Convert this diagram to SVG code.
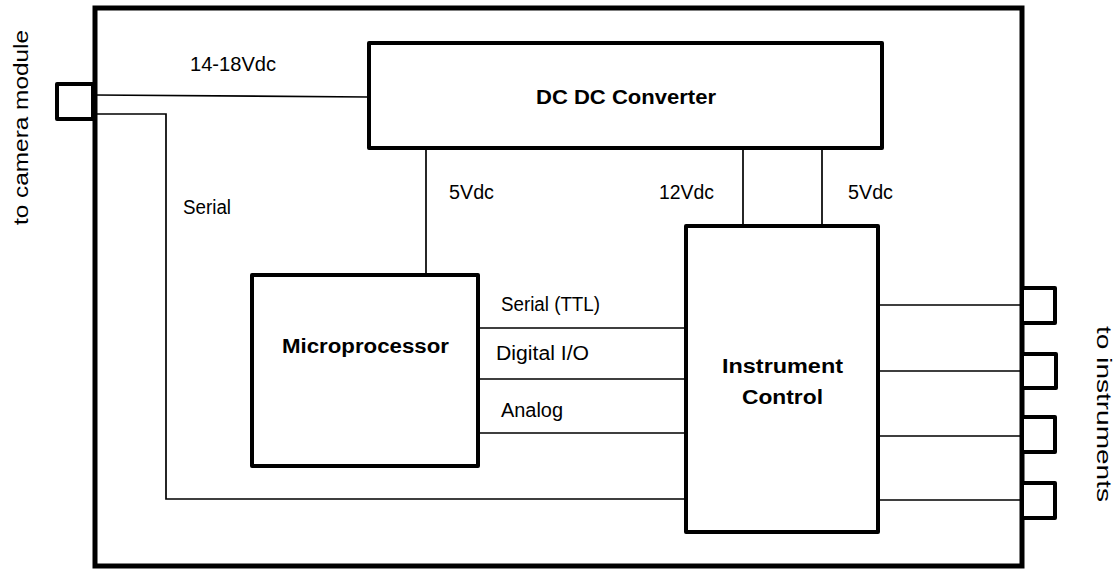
<svg xmlns="http://www.w3.org/2000/svg" width="1116" height="569" viewBox="0 0 1116 569">
<style>
.box{fill:#fff;stroke:#000;stroke-width:4;stroke-linejoin:round}
.outer{fill:none;stroke:#000;stroke-width:5}
.wire{fill:none;stroke:#000;stroke-width:1.7}
.lbl{font-family:"Liberation Sans",Arial,sans-serif;font-size:19.5px;fill:#000}
.bold{font-family:"Liberation Sans",Arial,sans-serif;font-size:19.5px;font-weight:bold;fill:#000}
</style>
<rect width="1116" height="569" fill="#fff"/>
<g id="enclosure">
<rect class="outer" x="95" y="8" width="927" height="558"/>
</g>
<g id="camera-port">
<rect class="box" x="57" y="84" width="36" height="35"/>
<text class="lbl" transform="translate(28,225) rotate(-90)" textLength="195" lengthAdjust="spacingAndGlyphs">to camera module</text>
</g>
<g id="instrument-ports">
<rect class="box" x="1022" y="288" width="33" height="35"/>
<rect class="box" x="1022" y="354" width="34" height="34"/>
<rect class="box" x="1022" y="417" width="33" height="35"/>
<rect class="box" x="1022" y="483" width="33" height="35"/>
<text class="lbl" transform="translate(1097,326) rotate(90)" textLength="176" lengthAdjust="spacingAndGlyphs">to instruments</text>
</g>
<g id="connectors">
<path class="wire" d="M95 95 L368 97"/>
<path class="wire" d="M95 114 H166 V499 H685"/>
<path class="wire" d="M426 149 V274"/>
<path class="wire" d="M743 149 V225"/>
<path class="wire" d="M822 149 V225"/>
<path class="wire" d="M478 328 H685 M478 379 H685 M478 433 H685"/>
<path class="wire" d="M878 305 H1020 M878 371 H1020 M878 436 H1020 M878 500 H1020"/>
<text class="lbl" x="190" y="71" textLength="86" lengthAdjust="spacingAndGlyphs">14-18Vdc</text>
<text class="lbl" x="183" y="214" textLength="48" lengthAdjust="spacingAndGlyphs">Serial</text>
<text class="lbl" x="449" y="199" textLength="45" lengthAdjust="spacingAndGlyphs">5Vdc</text>
<text class="lbl" x="659" y="199" textLength="55" lengthAdjust="spacingAndGlyphs">12Vdc</text>
<text class="lbl" x="848" y="199" textLength="45" lengthAdjust="spacingAndGlyphs">5Vdc</text>
<text class="lbl" x="501" y="311" textLength="99" lengthAdjust="spacingAndGlyphs">Serial (TTL)</text>
<text class="lbl" x="496" y="360" textLength="93" lengthAdjust="spacingAndGlyphs">Digital I/O</text>
<text class="lbl" x="501" y="417" textLength="62" lengthAdjust="spacingAndGlyphs">Analog</text>
</g>
<g id="dcdc-converter">
<rect class="box" x="369" y="43" width="513" height="105"/>
<text class="bold" x="536" y="104" textLength="180" lengthAdjust="spacingAndGlyphs">DC DC Converter</text>
</g>
<g id="microprocessor">
<rect class="box" x="252" y="275" width="226" height="191"/>
<text class="bold" x="282" y="353" textLength="167" lengthAdjust="spacingAndGlyphs">Microprocessor</text>
</g>
<g id="instrument-control">
<rect class="box" x="686" y="226" width="192" height="306"/>
<text class="bold" x="722" y="373" textLength="121" lengthAdjust="spacingAndGlyphs">Instrument</text>
<text class="bold" x="742" y="404" textLength="81" lengthAdjust="spacingAndGlyphs">Control</text>
</g>
</svg>
